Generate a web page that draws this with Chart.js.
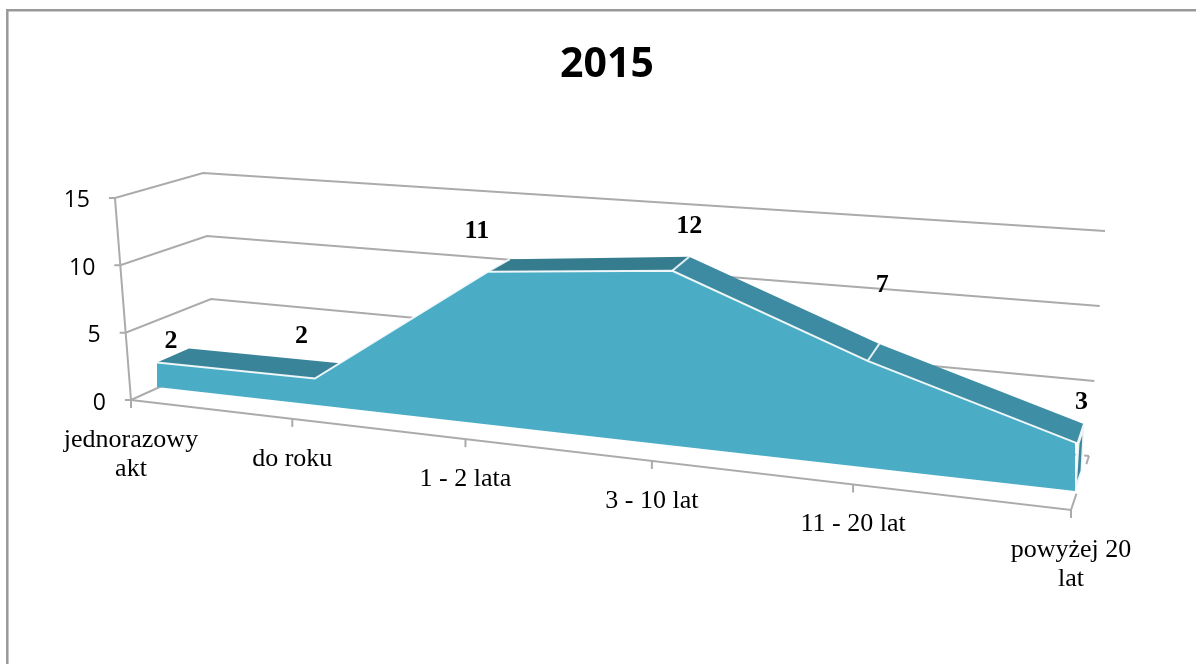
<!DOCTYPE html>
<html>
<head>
<meta charset="utf-8">
<title>2015</title>
<script src="https://cdn.jsdelivr.net/npm/chart.js@4"></script>
<style>
  html, body { margin: 0; padding: 0; background: #fff; }
  canvas { display: block; }
</style>
</head>
<body>
<canvas id="areaChart" width="1196" height="664"></canvas>
<script>
const chartTitle = "2015";
const categories = [["jednorazowy", "akt"], "do roku", "1 - 2 lata", "3 - 10 lat", "11 - 20 lat", ["powyżej 20", "lat"]];
const areaValues = [2, 2, 11, 12, 7, 3];
const baseValues = [0, 0, 0, 0, 0, 0];
const valueTicks = [0, 5, 10, 15];

// Perspective of the old 3D chart: each plane is a base line with a px-per-unit height at both ends
const bend = 0.207;
const axisPlane = { x0: 131, y0: 400, h0: 13.47, lean0: -1.07, x1: 1071, y1: 510, h1: 15, lean1: 0 };
const frontPlane = { x0: 157, y0: 387, h0: 12.3, lean0: 0, x1: 1075, y1: 491, h1: 15.8, lean1: 1 };
const backPlane = { x0: 189, y0: 372, h0: 11.8, lean0: 0, x1: 1082, y1: 471, h1: 15.6, lean1: 0.8 };
const wallPlane = { x0: 215, y0: 362, h0: 12.6, lean0: -0.8, x1: 1089, y1: 456, h1: 15, lean1: 1.07 };

const ribbonColors = ["#3a849a", "#3a849a", "#367c8f", "#3d8ba2", "#3e8fa6"];
const labelNudge = [[-18, -7], [-41, -27], [-33, -28], [0, -31], [3, -59], [-3, -22]];

function project(plane, s, v) {
  const t = s / (1 + bend * (1 - s));
  const mix = (a, b) => a + (b - a) * t;
  const hMix = plane.h0 + (plane.h1 - plane.h0) * Math.pow(t, 0.8);
  return {
    x: mix(plane.x0, plane.x1) + mix(plane.lean0, plane.lean1) * v,
    y: mix(plane.y0, plane.y1) - hMix * v,
  };
}

function pathOf(ctx, pts) {
  ctx.beginPath();
  pts.forEach((p, i) => (i ? ctx.lineTo(p.x, p.y) : ctx.moveTo(p.x, p.y)));
}

function along(a, b, f) {
  return { x: a.x + (b.x - a.x) * f, y: a.y + (b.y - a.y) * f };
}

const perspective = {
  id: "perspective",
  // Move the line points the library computed onto the front plane
  afterDatasetsUpdate(chart) {
    const { x, y } = chart.scales;
    chart.data.datasets.forEach((ds, i) => {
      chart.getDatasetMeta(i).data.forEach((pt) => {
        const p = project(frontPlane, x.getDecimalForPixel(pt.x), y.getValueForPixel(pt.y));
        pt.x = p.x;
        pt.y = p.y;
      });
    });
  },
  beforeDraw(chart) {
    // Only the top and left frame lines are inside the crop
    const ctx = chart.ctx;
    ctx.save();
    ctx.strokeStyle = "#999";
    ctx.lineWidth = 2.5;
    pathOf(ctx, [{ x: 7.3, y: chart.height }, { x: 7.3, y: 10.3 }, { x: chart.width, y: 10.3 }]);
    ctx.stroke();
    ctx.restore();
  },
  beforeDatasetsDraw(chart) {
    const ctx = chart.ctx;
    const { x, y } = chart.scales;
    const n = areaValues.length;
    const sAt = (i) => x.getDecimalForPixel(x.getPixelForValue(i));
    ctx.save();
    ctx.strokeStyle = "#ababab";
    ctx.lineWidth = 2;

    // Wall lines, left axis, floor
    y.ticks.forEach((tick) => {
      const a = project(axisPlane, 0, tick.value);
      pathOf(ctx, [{ x: a.x - 6, y: a.y }, a, project(wallPlane, 0, tick.value), project(wallPlane, 1, tick.value)]);
      ctx.stroke();
    });
    pathOf(ctx, [project(axisPlane, 0, 0), project(axisPlane, 0, y.max)]);
    ctx.stroke();
    const floorEnd = project(axisPlane, 1, 0);
    const wallEnd = project(wallPlane, 1, 0);
    pathOf(ctx, [project(axisPlane, 0, 0), floorEnd, along(floorEnd, wallEnd, 0.3)]);
    ctx.stroke();
    pathOf(ctx, [along(floorEnd, wallEnd, 0.85), wallEnd]);
    ctx.stroke();
    for (let i = 0; i < n; i++) {
      const p = project(axisPlane, sAt(i), 0);
      pathOf(ctx, [p, { x: p.x, y: p.y + 8 }]);
      ctx.stroke();
    }

    // Top of the area, going back from the front plane
    ctx.lineJoin = "round";
    for (let i = 0; i < n - 1; i++) {
      const f0 = project(frontPlane, sAt(i), areaValues[i]);
      const f1 = project(frontPlane, sAt(i + 1), areaValues[i + 1]);
      const b0 = project(backPlane, sAt(i), areaValues[i]);
      const b1 = project(backPlane, sAt(i + 1), areaValues[i + 1]);
      pathOf(ctx, [f0, b0, b1, f1]);
      ctx.closePath();
      ctx.fillStyle = ribbonColors[i];
      ctx.fill();
      if (i > 1) {
        ctx.strokeStyle = "rgba(255,255,255,0.85)";
        ctx.lineWidth = 2;
        pathOf(ctx, [f0, b0]);
        ctx.stroke();
      }
    }

    // End face on the right
    const last = n - 1;
    pathOf(ctx, [
      project(frontPlane, 1, areaValues[last]),
      project(backPlane, 1, areaValues[last]),
      project(backPlane, 1, 0),
      project(frontPlane, 1, 0),
    ]);
    ctx.closePath();
    ctx.fillStyle = "#3a849a";
    ctx.fill();
    ctx.strokeStyle = "rgba(255,255,255,0.9)";
    ctx.lineWidth = 3;
    ctx.stroke();
    ctx.restore();
  },
  afterDraw(chart) {
    const ctx = chart.ctx;
    const { x, y } = chart.scales;
    ctx.save();
    ctx.textBaseline = "middle";

    // Value axis labels
    ctx.fillStyle = "#000";
    ctx.textAlign = "right";
    ctx.font = '23px "Open Sans"';
    y.ticks.forEach((tick) => {
      const a = project(axisPlane, 0, tick.value);
      ctx.fillText(tick.label, a.x - 25, a.y + 3);
    });

    // Category labels under the floor
    ctx.textAlign = "center";
    ctx.font = '26px "Liberation Serif"';
    chart.data.labels.forEach((label, i) => {
      const p = project(axisPlane, x.getDecimalForPixel(x.getPixelForValue(i)), 0);
      [].concat(label).forEach((line, k) => ctx.fillText(line, p.x, p.y + 40 + k * 29));
    });

    // Value labels
    ctx.font = 'bold 26px "Liberation Serif"';
    areaValues.forEach((v, i) => {
      const p = project(backPlane, x.getDecimalForPixel(x.getPixelForValue(i)), v);
      ctx.fillText(String(v), p.x + labelNudge[i][0], p.y + labelNudge[i][1]);
    });
    ctx.restore();
  },
};

new Chart(document.getElementById("areaChart"), {
  type: "line",
  data: {
    labels: categories,
    datasets: [
      {
        label: chartTitle,
        data: areaValues,
        fill: "+1",
        backgroundColor: "#4bacc6",
        borderColor: "rgba(255,255,255,0.9)",
        borderWidth: 2,
        pointRadius: 0,
        tension: 0,
        clip: false,
      },
      {
        label: "base",
        data: baseValues,
        fill: false,
        borderWidth: 0,
        pointRadius: 0,
        tension: 0,
        clip: false,
      },
    ],
  },
  options: {
    responsive: false,
    animation: false,
    layout: { padding: { left: 18, right: 0, top: 0, bottom: 20 } },
    scales: {
      x: { display: false, offset: false },
      y: {
        display: false,
        min: valueTicks[0],
        max: valueTicks[valueTicks.length - 1],
        ticks: { stepSize: 5 },
      },
    },
    plugins: {
      legend: { display: false },
      tooltip: { enabled: false },
      title: {
        display: true,
        text: chartTitle,
        color: "#000",
        font: { family: '"Open Sans"', size: 41, weight: "bold", lineHeight: 1.2 },
        padding: { top: 41, bottom: 0 },
      },
    },
  },
  plugins: [perspective],
});
</script>
</body>
</html>
